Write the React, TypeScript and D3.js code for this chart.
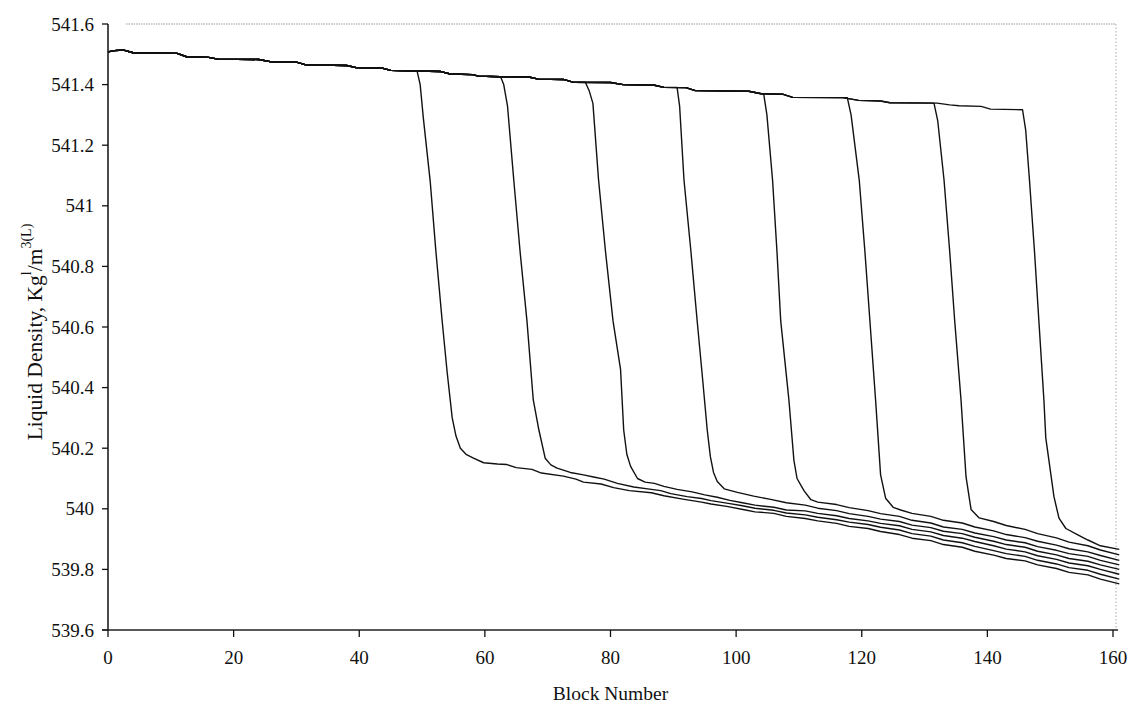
import React from "react";
import * as d3 from "d3";

// ---- data ----
const xTicks = [0, 20, 40, 60, 80, 100, 120, 140, 160];
const yTicks = [539.6, 539.8, 540, 540.2, 540.4, 540.6, 540.8, 541, 541.2, 541.4, 541.6];

// shared upper plateau (block, density)
const topPath: [number, number][] = [
  [0, 541.508], [1, 541.512], [2.5, 541.514], [4, 541.505], [11, 541.503], [12.5, 541.492],
  [16, 541.49], [17.5, 541.484], [24, 541.483], [26, 541.475], [30, 541.474], [31.5, 541.465],
  [38, 541.463], [39.5, 541.456], [43.5, 541.455], [45, 541.447], [49.2, 541.445], [53, 541.443],
  [54.5, 541.435], [58, 541.433], [59, 541.428], [62.5, 541.426], [67, 541.425], [68.5, 541.418],
  [72.5, 541.417], [74, 541.408], [80, 541.407], [82, 541.4], [87, 541.398], [88.5, 541.391],
  [92, 541.39], [93.5, 541.38], [102, 541.378], [104, 541.37], [107.5, 541.368], [109, 541.358],
  [117, 541.357], [119.5, 541.348], [123, 541.346], [124.5, 541.34], [132, 541.339], [134, 541.333],
  [135.5, 541.33], [139, 541.328], [140.5, 541.319], [145.6, 541.317],
];

const tail1: [number, number][] = [
  [49.2, 541.445], [49.7, 541.4], [50.2, 541.29], [51.3, 541.08], [52.2, 540.85], [53.2, 540.62],
  [54.0, 540.45], [54.8, 540.3], [55.4, 540.24], [56.1, 540.2], [57.0, 540.18], [58.1, 540.168],
  [59.8, 540.152], [62, 540.148], [63.5, 540.146], [65, 540.136], [67.5, 540.13], [69, 540.118],
  [72.5, 540.108], [74.5, 540.098], [75.7, 540.088], [78.5, 540.082], [80.5, 540.07], [83, 540.06],
  [86.5, 540.053], [88.5, 540.043], [91.5, 540.032], [94.5, 540.022], [96, 540.016], [98.5, 540.008],
  [101.5, 539.996], [103, 539.99], [106, 539.985], [108, 539.975], [111, 539.968], [113, 539.96],
  [116, 539.952], [118, 539.942], [121, 539.935], [123, 539.925], [126, 539.915], [128, 539.903],
  [131, 539.895], [133, 539.882], [136, 539.873], [138, 539.86], [141, 539.847], [143, 539.836],
  [146, 539.828], [148, 539.815], [151, 539.803], [153, 539.79], [156, 539.782], [158, 539.768],
  [161, 539.752],
];
const tail2: [number, number][] = [
  [62.5, 541.426], [63.0, 541.4], [63.6, 541.33], [64.6, 541.085], [65.6, 540.85], [66.7, 540.62],
  [67.7, 540.36], [68.6, 540.26], [69.6, 540.167], [70.5, 540.145], [71.5, 540.134], [73.6, 540.12],
  [75.7, 540.112], [77.5, 540.104], [79, 540.098], [81.1, 540.084], [83.7, 540.072], [86.5, 540.064],
  [88, 540.06], [89.6, 540.05], [92.2, 540.04], [94.5, 540.034], [96, 540.027], [99, 540.017],
  [101, 540.01], [103, 540.002], [106, 539.995], [108, 539.986], [111, 539.98], [113, 539.972],
  [116, 539.964], [118, 539.956], [121, 539.948], [123, 539.939], [126, 539.93], [128, 539.918],
  [131, 539.91], [133, 539.897], [136, 539.888], [138, 539.876], [141, 539.862], [143, 539.852],
  [146, 539.843], [148, 539.83], [151, 539.818], [153, 539.806], [156, 539.797], [158, 539.784],
  [161, 539.768],
];
const tail3: [number, number][] = [
  [76, 541.408], [76.6, 541.38], [77.2, 541.338], [78.1, 541.085], [79.2, 540.85], [80.4, 540.62],
  [81.6, 540.46], [82.1, 540.26], [82.6, 540.18], [83.2, 540.14], [84.3, 540.1], [85.5, 540.088],
  [87, 540.084], [88.5, 540.074], [90.6, 540.064], [93, 540.056], [95, 540.046], [97, 540.038],
  [99, 540.028], [101, 540.02], [103, 540.012], [106, 540.005], [108, 539.996], [111, 539.993],
  [113, 539.985], [116, 539.977], [118, 539.968], [121, 539.96], [123, 539.952], [126, 539.944],
  [128, 539.932], [131, 539.924], [133, 539.912], [136, 539.903], [138, 539.892], [141, 539.878],
  [143, 539.867], [146, 539.858], [148, 539.845], [151, 539.833], [153, 539.821], [156, 539.812],
  [158, 539.8], [161, 539.784],
];
const tail4: [number, number][] = [
  [90.6, 541.391], [91.0, 541.33], [91.7, 541.085], [92.8, 540.85], [93.8, 540.62], [94.7, 540.42],
  [95.4, 540.26], [95.9, 540.172], [96.4, 540.12], [97, 540.09], [98.1, 540.066], [100.2, 540.054],
  [102.8, 540.042], [105.5, 540.031], [108, 540.02], [111, 540.012], [113, 540.002], [116, 539.994],
  [118, 539.984], [121, 539.975], [123, 539.966], [126, 539.958], [128, 539.946], [131, 539.938],
  [133, 539.926], [136, 539.918], [138, 539.906], [141, 539.893], [143, 539.882], [146, 539.873],
  [148, 539.86], [151, 539.848], [153, 539.836], [156, 539.827], [158, 539.815], [161, 539.8],
];
const tail5: [number, number][] = [
  [104.4, 541.368], [104.9, 541.3], [105.8, 541.085], [106.5, 540.85], [107.1, 540.62], [107.8, 540.48],
  [108.4, 540.36], [109.2, 540.16], [109.7, 540.1], [110.8, 540.06], [111.9, 540.03], [113, 540.022],
  [116, 540.014], [118, 540.004], [121, 539.994], [123, 539.984], [126, 539.975], [128, 539.962],
  [131, 539.953], [133, 539.94], [136, 539.932], [138, 539.92], [141, 539.908], [143, 539.897],
  [146, 539.888], [148, 539.875], [151, 539.863], [153, 539.852], [156, 539.843], [158, 539.83],
  [161, 539.815],
];
const tail6: [number, number][] = [
  [117.7, 541.357], [118.3, 541.3], [119.6, 541.085], [120.5, 540.85], [121.3, 540.62], [122.2, 540.36],
  [123, 540.112], [123.8, 540.035], [125, 540.005], [126.2, 539.996], [128, 539.985], [131, 539.975],
  [133, 539.962], [136, 539.953], [138, 539.94], [141, 539.927], [143, 539.915], [146, 539.905],
  [148, 539.893], [151, 539.88], [153, 539.868], [156, 539.858], [158, 539.846], [161, 539.83],
];
const tail7: [number, number][] = [
  [131.5, 541.339], [132.1, 541.28], [133.1, 541.085], [134.0, 540.85], [134.8, 540.62], [135.8, 540.36],
  [136.6, 540.106], [137.4, 539.998], [138.7, 539.97], [141, 539.958], [143, 539.945], [146, 539.932],
  [148, 539.918], [151, 539.904], [153, 539.89], [156, 539.878], [158, 539.864], [161, 539.848],
];
const tail8: [number, number][] = [
  [145.6, 541.317], [146.1, 541.25], [146.7, 541.085], [147.5, 540.85], [148.2, 540.62], [149, 540.359],
  [149.3, 540.234], [150.6, 540.04], [151.4, 539.969], [152.5, 539.935], [154.4, 539.914], [156, 539.897],
  [158, 539.878], [161, 539.866],
];

const tails = [tail1, tail2, tail3, tail4, tail5, tail6, tail7, tail8];

export default function App() {
  const W = 1128;
  const H = 704;
  const x = d3.scaleLinear().domain([0, 160]).range([108, 1113]);
  const y = d3.scaleLinear().domain([539.6, 541.6]).range([630, 24]);
  const line = d3
    .line<[number, number]>()
    .x((d) => x(d[0]))
    .y((d) => y(d[1]));

  const series = tails.map((t) => [...topPath.filter((p) => p[0] < t[0][0]), ...t]);
  const font = "'Liberation Serif', 'Times New Roman', serif";
  const x0 = x(0);
  const xr = 1116;

  return (
    <svg
      width={W}
      height={H}
      style={{ position: "absolute", left: 0, top: 0, background: "#fff" }}
      fontFamily={font}
    >
      <rect x={0} y={0} width={W} height={H} fill="#fff" />
      {/* frame (dotted) */}
      <line x1={126} x2={xr} y1={y(541.6)} y2={y(541.6)} stroke="#999" strokeWidth={1} strokeDasharray="1.5,1" />
      <line x1={xr} x2={xr} y1={y(541.6)} y2={y(539.6)} stroke="#aaa" strokeWidth={1} strokeDasharray="1.5,2" />

      {/* series */}
      {series.map((s, i) => (
        <path key={i} d={line(s) || ""} fill="none" stroke="#111" strokeWidth={1.4} strokeLinejoin="round" />
      ))}

      {/* y axis */}
      <line x1={x0} x2={x0} y1={y(541.6)} y2={y(539.6)} stroke="#111" strokeWidth={1.5} />
      {yTicks.map((t) => (
        <g key={t}>
          <line x1={x0 - 6} x2={x0} y1={y(t)} y2={y(t)} stroke="#111" strokeWidth={1.3} />
          <text x={x0 - 14} y={y(t)} dy="0.35em" textAnchor="end" fontSize={19} fill="#111">
            {d3.format("~g")(t)}
          </text>
        </g>
      ))}

      {/* x axis */}
      <line x1={x0 - 6} x2={xr + 2} y1={y(539.6)} y2={y(539.6)} stroke="#222" strokeWidth={1.6} />
      {xTicks.map((t) => (
        <g key={t}>
          <line x1={x(t)} x2={x(t)} y1={y(539.6)} y2={y(539.6) + 7} stroke="#111" strokeWidth={1.3} />
          <text x={x(t)} y={y(539.6) + 27} dy="0.35em" textAnchor="middle" fontSize={19} fill="#111">
            {t}
          </text>
        </g>
      ))}

      {/* titles */}
      <text x={(x(0) + x(160)) / 2} y={693} dy="0.35em" textAnchor="middle" fontSize={19.5} fill="#111">
        Block Number
      </text>
      <text
        transform={`translate(34, 332) rotate(-90)`}
        textAnchor="middle"
        dy="0.35em"
        fontSize={21.5}
        fill="#111"
      >
        Liquid Density, Kg
        <tspan fontSize={14} dy="-0.75em">l</tspan>
        <tspan dy="0.5em">/m</tspan>
        <tspan fontSize={14} dy="-0.75em">3(L)</tspan>
      </text>
    </svg>
  );
}
